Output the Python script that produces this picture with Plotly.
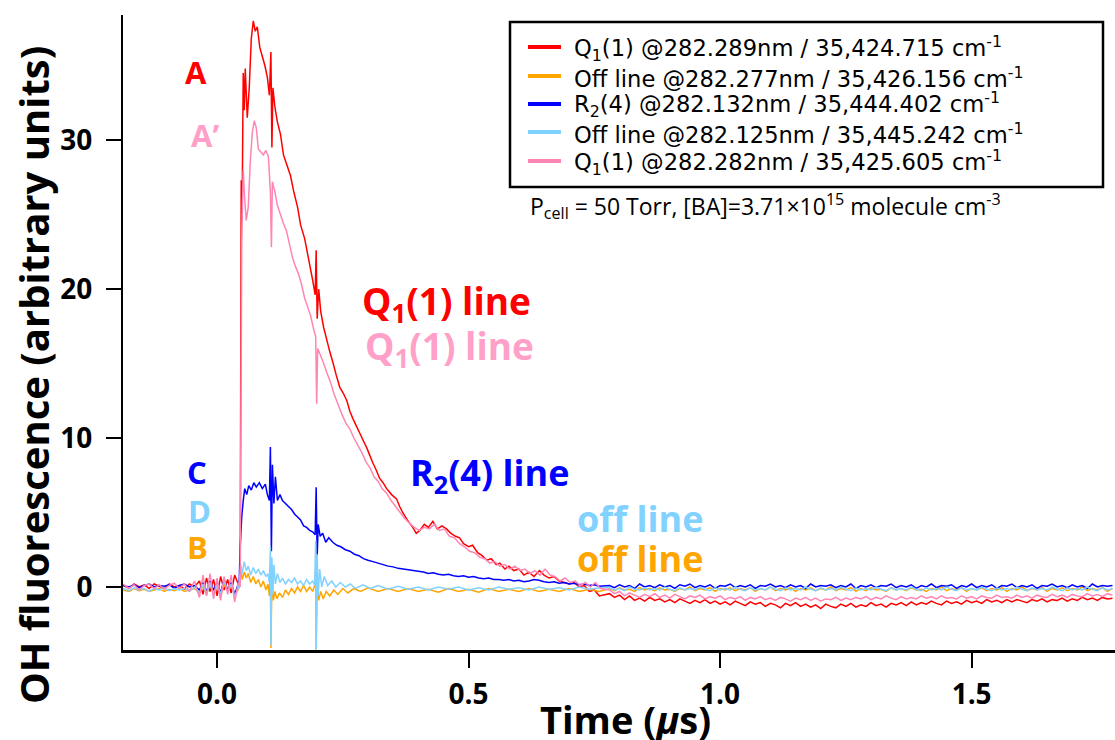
import plotly.graph_objects as go

# ---------------- data ----------------
# shared pre-trigger time base (µs)
T_PRE = [-0.187, -0.175, -0.165, -0.155, -0.145, -0.135, -0.125, -0.115, -0.105, -0.095,
         -0.085, -0.075, -0.065, -0.055, -0.045, -0.035, -0.028, -0.021, -0.014, -0.007,
         0.0, 0.007, 0.014, 0.021, 0.028, 0.035, 0.042]

# shared late-time base (µs)
T_TAIL = [0.78, 0.79, 0.80, 0.81, 0.82, 0.83, 0.84, 0.85, 0.86, 0.87,
          0.88, 0.89, 0.90, 0.91, 0.92, 0.93, 0.94, 0.95, 0.96, 0.97,
          0.98, 0.99, 1.00, 1.01, 1.02, 1.03, 1.04, 1.05, 1.06, 1.07,
          1.08, 1.09, 1.10, 1.11, 1.12, 1.13, 1.14, 1.15, 1.16, 1.17,
          1.18, 1.19, 1.20, 1.21, 1.22, 1.23, 1.24, 1.25, 1.26, 1.27,
          1.28, 1.29, 1.30, 1.31, 1.32, 1.33, 1.34, 1.35, 1.36, 1.37,
          1.38, 1.39, 1.40, 1.41, 1.42, 1.43, 1.44, 1.45, 1.46, 1.47,
          1.48, 1.49, 1.50, 1.51, 1.52, 1.53, 1.54, 1.55, 1.56, 1.57,
          1.58, 1.59, 1.60, 1.61, 1.62, 1.63, 1.64, 1.65, 1.66, 1.67,
          1.68, 1.69, 1.70, 1.71, 1.72, 1.73, 1.74, 1.75, 1.76, 1.77,
          1.78]

# --- Q1(1) @282.289 nm (red)
RED_PRE = [0.1, -0.1, 0.2, 0.0, 0.15, -0.1, 0.2, 0.05, -0.1, 0.2,
           0.0, 0.1, -0.15, 0.2, 0.0, 0.4, -0.5, 0.6, -0.3, 0.5,
           -0.6, 0.7, -0.2, 0.5, -0.4, 0.8, 0.2]
RED_MID = [(0.046, 0.5), (0.048, 27.3), (0.050, 26.0), (0.052, 34.5), (0.054, 32.0),
           (0.056, 34.8), (0.060, 31.5), (0.064, 33.5), (0.068, 36.8), (0.072, 38.0),
           (0.076, 37.3), (0.080, 37.6), (0.085, 36.2), (0.090, 35.6), (0.095, 35.0),
           (0.100, 34.2), (0.104, 33.0), (0.107, 35.9), (0.109, 29.5), (0.111, 33.5),
           (0.115, 32.2), (0.120, 31.2), (0.126, 30.4), (0.132, 29.0), (0.140, 28.2),
           (0.146, 27.6), (0.152, 26.6), (0.160, 25.5), (0.166, 24.3), (0.174, 23.4),
           (0.182, 22.0), (0.190, 20.6), (0.195, 19.6), (0.197, 22.6), (0.199, 18.0),
           (0.202, 20.0), (0.206, 18.5), (0.212, 17.4), (0.218, 16.6), (0.224, 15.8),
           (0.230, 15.1), (0.237, 14.2), (0.244, 13.4), (0.251, 13.0), (0.258, 12.5),
           (0.264, 11.8), (0.270, 11.3), (0.277, 10.8), (0.284, 10.3), (0.291, 9.8),
           (0.298, 9.3), (0.304, 8.8), (0.310, 8.3), (0.317, 7.8), (0.323, 7.3),
           (0.330, 7.0), (0.337, 6.6), (0.347, 6.2), (0.357, 5.9), (0.363, 5.4),
           (0.369, 5.0), (0.378, 4.5), (0.389, 4.0), (0.396, 3.6), (0.403, 3.8),
           (0.412, 4.2), (0.420, 4.0), (0.429, 4.4), (0.438, 3.9), (0.447, 4.1),
           (0.456, 3.9), (0.465, 3.6), (0.474, 3.4), (0.482, 3.3), (0.490, 2.9),
           (0.500, 2.7), (0.508, 2.8), (0.518, 2.3), (0.527, 2.1), (0.536, 1.8),
           (0.545, 1.9), (0.555, 1.5), (0.562, 1.6), (0.572, 1.2), (0.580, 1.4),
           (0.590, 1.1), (0.600, 1.2), (0.610, 0.8), (0.620, 1.0), (0.630, 0.7),
           (0.641, 1.1), (0.650, 0.8), (0.660, 0.6), (0.670, 0.7), (0.680, 0.4),
           (0.690, 0.3), (0.700, 0.2), (0.710, 0.3), (0.720, 0.0), (0.730, 0.1),
           (0.740, -0.3), (0.750, -0.2), (0.760, -0.6)]
RED_TAIL = [-0.45, -0.7, -0.55, -0.85, -0.6, -0.9, -0.75, -0.95, -0.7, -0.9,
            -0.8, -1.0, -0.85, -1.05, -0.8, -0.95, -1.1, -0.9, -1.05, -0.85,
            -1.1, -0.95, -1.15, -1.0, -1.2, -0.95, -1.1, -1.25, -1.0, -1.15,
            -1.05, -1.3, -1.1, -1.2, -1.4, -1.1, -1.25, -1.05, -1.3, -1.15,
            -1.35, -1.2, -1.45, -1.15, -1.3, -1.4, -1.15, -1.3, -1.1, -1.35,
            -1.2, -1.3, -1.05, -1.25, -1.15, -1.35, -1.1, -1.2, -1.05, -1.25,
            -1.0, -1.2, -1.05, -1.15, -0.95, -1.1, -1.2, -0.95, -1.1, -1.0,
            -1.15, -0.9, -1.05, -0.95, -1.1, -0.85, -1.0, -0.9, -1.05, -0.85,
            -1.0, -0.85, -0.95, -1.05, -0.85, -0.95, -0.8, -1.0, -0.85, -0.9,
            -0.75, -0.95, -0.8, -0.9, -0.7, -0.85, -0.75, -0.9, -0.7, -0.8,
            -0.75]

# --- Off line @282.277 nm (orange)
ORANGE_PRE = [-0.2, -0.3, -0.1, -0.25, -0.15, -0.3, -0.2, -0.1, -0.3, -0.15,
              -0.25, -0.1, -0.3, -0.2, -0.1, -0.4, 0.1, -0.5, 0.2, -0.4,
              0.3, -0.6, 0.2, -0.3, 0.1, -0.5, -0.2]
ORANGE_MID = [(0.044, 0.0), (0.047, 1.2), (0.050, 0.5), (0.054, 1.0), (0.058, 0.6),
              (0.062, 0.9), (0.067, 0.3), (0.072, 0.7), (0.077, 0.2), (0.082, 0.5),
              (0.087, 0.0), (0.092, 0.4), (0.097, -0.2), (0.101, 0.2), (0.104, -0.6),
              (0.106, 1.0), (0.107, -4.1), (0.109, 0.5), (0.112, -0.9), (0.115, -0.3),
              (0.119, -0.8), (0.124, -0.4), (0.130, -0.7), (0.136, -0.2), (0.142, -0.5),
              (0.148, -0.1), (0.154, -0.4), (0.160, 0.0), (0.166, -0.3), (0.172, 0.1),
              (0.178, -0.3), (0.184, 0.0), (0.190, -0.3), (0.194, 0.1), (0.196, 1.2),
              (0.197, -4.2), (0.199, 0.4), (0.202, -0.9), (0.206, -0.3), (0.211, -0.8),
              (0.217, -0.3), (0.224, -0.6), (0.232, -0.2), (0.240, -0.5), (0.250, -0.1),
              (0.260, -0.4), (0.272, -0.1), (0.285, -0.3), (0.300, -0.05), (0.320, -0.3),
              (0.340, -0.1), (0.360, -0.3), (0.380, -0.1), (0.400, -0.3), (0.420, -0.15),
              (0.440, -0.35), (0.460, -0.1), (0.480, -0.3), (0.500, -0.15), (0.520, -0.35),
              (0.540, -0.1), (0.560, -0.3), (0.580, -0.15), (0.600, -0.3), (0.620, -0.1),
              (0.640, -0.3), (0.660, -0.15), (0.680, -0.3), (0.700, -0.1), (0.720, -0.3),
              (0.740, -0.15), (0.760, -0.3)]
ORANGE_TAIL = [-0.1, -0.25, -0.05, -0.2, -0.15, -0.3, -0.05, -0.2, -0.1, -0.25,
               -0.05, -0.2, -0.15, -0.3, -0.1, -0.2, 0.0, -0.25, -0.1, -0.2,
               -0.05, -0.3, -0.1, -0.2, -0.05, -0.25, -0.1, -0.2, -0.05, -0.3,
               -0.1, -0.2, 0.0, -0.25, -0.1, -0.2, -0.05, -0.3, -0.1, -0.2,
               -0.05, -0.25, -0.1, -0.2, 0.0, -0.25, -0.1, -0.2, -0.05, -0.3,
               -0.1, -0.25, -0.05, -0.2, -0.15, -0.3, -0.05, -0.2, -0.1, -0.25,
               -0.05, -0.2, -0.15, -0.3, -0.1, -0.2, 0.0, -0.25, -0.1, -0.2,
               -0.05, -0.3, -0.1, -0.2, -0.05, -0.25, -0.1, -0.2, -0.05, -0.3,
               -0.1, -0.2, 0.0, -0.25, -0.1, -0.2, -0.05, -0.3, -0.1, -0.2,
               -0.05, -0.25, -0.1, -0.2, 0.0, -0.25, -0.1, -0.2, -0.05, -0.3,
               -0.1]

# --- R2(4) @282.132 nm (blue)
BLUE_PRE = [0.1, 0.0, 0.15, -0.05, 0.1, 0.2, 0.0, 0.1, 0.05, 0.15,
            -0.1, 0.1, 0.2, 0.0, 0.1, -0.2, 0.3, -0.3, 0.4, -0.2,
            0.3, -0.4, 0.5, -0.2, 0.3, -0.5, 0.2]
BLUE_MID = [(0.044, 0.3), (0.046, 2.7), (0.049, 4.7), (0.052, 5.8), (0.055, 6.6),
            (0.059, 6.2), (0.063, 6.8), (0.068, 6.5), (0.073, 7.0), (0.078, 6.7),
            (0.084, 7.0), (0.090, 6.6), (0.096, 6.9), (0.100, 6.2), (0.104, 5.8),
            (0.106, 9.4), (0.108, 2.4), (0.110, 8.2), (0.113, 5.6), (0.116, 7.4),
            (0.120, 5.8), (0.125, 6.2), (0.130, 5.8), (0.136, 5.6), (0.142, 5.4),
            (0.148, 5.2), (0.154, 4.9), (0.160, 4.7), (0.166, 4.5), (0.172, 4.1),
            (0.178, 4.0), (0.184, 3.8), (0.190, 3.7), (0.195, 3.5), (0.197, 6.7),
            (0.199, 2.0), (0.201, 4.2), (0.205, 3.4), (0.210, 3.6), (0.216, 3.0),
            (0.222, 3.3), (0.230, 3.0), (0.238, 2.8), (0.246, 2.7), (0.255, 2.5),
            (0.264, 2.4), (0.273, 2.2), (0.282, 2.1), (0.291, 1.9), (0.300, 1.8),
            (0.310, 1.7), (0.320, 1.6), (0.330, 1.5), (0.340, 1.4), (0.350, 1.35),
            (0.360, 1.25), (0.370, 1.2), (0.380, 1.15), (0.390, 1.1), (0.400, 1.05),
            (0.410, 1.0), (0.420, 0.9), (0.430, 0.95), (0.440, 0.85), (0.450, 0.8),
            (0.460, 0.85), (0.470, 0.75), (0.480, 0.7), (0.490, 0.75), (0.500, 0.65),
            (0.510, 0.7), (0.520, 0.6), (0.530, 0.55), (0.540, 0.6), (0.550, 0.5),
            (0.560, 0.5), (0.570, 0.45), (0.580, 0.5), (0.590, 0.4), (0.600, 0.45),
            (0.610, 0.35), (0.620, 0.4), (0.630, 0.5), (0.640, 0.45), (0.650, 0.35),
            (0.660, 0.3), (0.670, 0.35), (0.680, 0.25), (0.690, 0.3), (0.700, 0.2),
            (0.710, 0.25), (0.720, 0.15), (0.730, 0.2), (0.740, 0.1), (0.750, 0.15),
            (0.760, 0.05)]
BLUE_TAIL = [0.1, -0.05, 0.15, 0.0, 0.1, -0.1, 0.2, 0.0, 0.1, -0.05,
             0.15, 0.0, 0.1, -0.1, 0.15, 0.05, 0.2, -0.05, 0.1, 0.0,
             0.15, -0.1, 0.1, 0.05, 0.2, -0.05, 0.1, 0.0, 0.15, -0.1,
             0.1, 0.05, 0.2, 0.0, 0.1, -0.05, 0.15, 0.0, 0.1, -0.1,
             0.2, 0.0, 0.1, 0.05, 0.15, -0.05, 0.1, 0.0, 0.2, -0.1,
             0.1, 0.0, 0.15, -0.05, 0.1, 0.05, 0.2, -0.05, 0.1, 0.0,
             0.15, -0.1, 0.1, 0.0, 0.2, -0.05, 0.1, 0.05, 0.15, -0.1,
             0.1, 0.0, 0.2, -0.05, 0.1, 0.0, 0.15, -0.1, 0.1, 0.05,
             0.2, -0.05, 0.1, 0.0, 0.15, -0.1, 0.1, 0.05, 0.2, 0.0,
             0.1, -0.05, 0.15, 0.0, 0.1, -0.1, 0.2, 0.0, 0.1, 0.05,
             0.1]

# --- Off line @282.125 nm (light blue)
LBLUE_PRE = [-0.1, -0.25, -0.05, -0.2, -0.1, -0.3, -0.1, -0.2, -0.05, -0.25,
             -0.1, -0.2, -0.1, -0.3, 0.0, -0.4, 0.2, -0.5, 0.3, -0.6,
             0.2, -0.5, 0.4, -0.3, 0.2, -0.6, -0.1]
LBLUE_MID = [(0.044, 0.2), (0.047, 1.5), (0.050, 0.9), (0.054, 1.7), (0.058, 1.1),
             (0.062, 1.4), (0.067, 0.8), (0.072, 1.3), (0.077, 0.9), (0.082, 1.2),
             (0.087, 0.8), (0.092, 1.1), (0.097, 0.7), (0.101, 0.9), (0.104, 0.3),
             (0.106, 2.7), (0.107, -3.9), (0.109, 2.0), (0.111, -0.5), (0.113, 1.5),
             (0.116, 0.2), (0.120, 0.9), (0.125, 0.3), (0.130, 0.6), (0.136, 0.2),
             (0.142, 0.5), (0.148, 0.3), (0.154, 0.6), (0.160, 0.2), (0.166, 0.4),
             (0.172, 0.1), (0.178, 0.5), (0.184, 0.2), (0.190, 0.4), (0.194, 0.1),
             (0.196, 3.1), (0.197, -4.2), (0.199, 2.2), (0.201, -0.6), (0.204, 1.2),
             (0.208, 0.0), (0.213, 0.7), (0.220, 0.1), (0.228, 0.4), (0.236, 0.0),
             (0.245, 0.3), (0.255, 0.0), (0.265, 0.2), (0.275, -0.1), (0.290, 0.15),
             (0.305, -0.1), (0.320, 0.1), (0.340, -0.15), (0.360, 0.05), (0.380, -0.15),
             (0.400, 0.0), (0.420, -0.2), (0.440, 0.0), (0.460, -0.15), (0.480, 0.0),
             (0.500, -0.2), (0.520, -0.05), (0.540, -0.2), (0.560, 0.0), (0.580, -0.15),
             (0.600, -0.05), (0.620, -0.2), (0.640, 0.0), (0.660, -0.15), (0.680, -0.05),
             (0.700, -0.2), (0.720, 0.0), (0.740, -0.15), (0.760, -0.05)]
LBLUE_TAIL = [-0.05, -0.2, -0.1, -0.25, 0.0, -0.15, -0.2, -0.05, -0.2, -0.1,
              -0.2, 0.0, -0.15, -0.25, -0.05, -0.2, -0.1, -0.2, 0.0, -0.15,
              -0.25, -0.05, -0.2, -0.1, -0.2, 0.0, -0.15, -0.25, -0.05, -0.2,
              -0.1, -0.2, 0.0, -0.15, -0.25, -0.05, -0.2, -0.1, -0.2, 0.0,
              -0.15, -0.25, -0.05, -0.2, -0.1, -0.2, 0.0, -0.15, -0.25, -0.05,
              -0.2, -0.1, -0.2, 0.0, -0.15, -0.25, -0.05, -0.2, -0.1, -0.2,
              0.0, -0.15, -0.25, -0.05, -0.2, -0.1, -0.2, 0.0, -0.15, -0.25,
              -0.05, -0.2, -0.1, -0.2, 0.0, -0.15, -0.25, -0.05, -0.2, -0.1,
              -0.2, 0.0, -0.15, -0.25, -0.05, -0.2, -0.1, -0.2, 0.0, -0.15,
              -0.25, -0.05, -0.2, -0.1, -0.2, 0.0, -0.15, -0.25, -0.05, -0.2,
              -0.1]

# --- Q1(1) @282.282 nm (pink)
PINK_PRE = [0.2, -0.1, 0.15, -0.2, 0.1, 0.2, -0.1, 0.15, -0.15, 0.1,
            0.25, -0.1, 0.2, -0.3, 0.4, -0.7, 0.8, -0.6, 0.9, -0.8,
            0.6, -0.9, 0.7, -0.5, 0.8, -1.0, 0.3]
PINK_MID = [(0.046, 0.0), (0.049, 23.0), (0.052, 28.0), (0.055, 26.0), (0.058, 24.6),
            (0.062, 25.5), (0.066, 28.5), (0.070, 30.5), (0.074, 31.3), (0.078, 30.8),
            (0.082, 29.4), (0.087, 29.2), (0.092, 29.0), (0.097, 29.3), (0.102, 28.9),
            (0.106, 26.5), (0.108, 22.8), (0.110, 27.2), (0.115, 26.5), (0.120, 25.6),
            (0.126, 25.0), (0.132, 24.4), (0.138, 23.9), (0.144, 23.0), (0.150, 22.1),
            (0.156, 21.5), (0.162, 21.0), (0.168, 20.3), (0.174, 19.4), (0.180, 18.8),
            (0.186, 18.2), (0.192, 17.3), (0.196, 16.8), (0.198, 12.3), (0.200, 16.0),
            (0.205, 15.6), (0.212, 15.0), (0.218, 14.4), (0.225, 13.8), (0.232, 13.0),
            (0.240, 12.3), (0.248, 11.6), (0.256, 11.0), (0.264, 10.6), (0.272, 10.0),
            (0.280, 9.5), (0.288, 9.0), (0.296, 8.4), (0.304, 8.0), (0.312, 7.4),
            (0.320, 7.1), (0.328, 6.6), (0.337, 6.3), (0.346, 5.8), (0.355, 5.4),
            (0.364, 5.0), (0.373, 4.6), (0.382, 4.3), (0.392, 4.0), (0.402, 3.8),
            (0.412, 4.0), (0.422, 3.9), (0.432, 4.2), (0.442, 3.8), (0.452, 3.9),
            (0.462, 3.4), (0.472, 3.3), (0.482, 2.9), (0.492, 2.7), (0.502, 2.4),
            (0.512, 2.3), (0.522, 2.0), (0.532, 1.9), (0.542, 1.6), (0.552, 1.7),
            (0.562, 1.4), (0.572, 1.5), (0.582, 1.2), (0.592, 1.4), (0.602, 1.1),
            (0.612, 1.2), (0.622, 0.9), (0.632, 1.1), (0.642, 0.8), (0.652, 1.2),
            (0.662, 0.8), (0.672, 0.7), (0.682, 0.4), (0.692, 0.6), (0.702, 0.3),
            (0.712, 0.4), (0.722, 0.1), (0.732, 0.3), (0.742, 0.0), (0.752, 0.3),
            (0.762, -0.1)]
PINK_TAIL = [-0.2, -0.45, -0.3, -0.6, -0.4, -0.55, -0.7, -0.5, -0.65, -0.45,
             -0.7, -0.55, -0.75, -0.5, -0.65, -0.8, -0.6, -0.7, -0.55, -0.8,
             -0.65, -0.75, -0.6, -0.85, -0.7, -0.8, -0.65, -0.9, -0.7, -0.8,
             -0.65, -0.85, -0.75, -0.9, -0.7, -0.8, -0.95, -0.75, -0.85, -0.7,
             -0.9, -0.75, -0.95, -0.8, -0.85, -0.7, -0.9, -0.75, -0.85, -0.7,
             -0.8, -0.65, -0.85, -0.7, -0.8, -0.6, -0.75, -0.85, -0.65, -0.8,
             -0.7, -0.8, -0.6, -0.75, -0.65, -0.8, -0.6, -0.75, -0.7, -0.8,
             -0.6, -0.75, -0.65, -0.8, -0.6, -0.7, -0.75, -0.55, -0.7, -0.65,
             -0.75, -0.55, -0.7, -0.6, -0.75, -0.55, -0.65, -0.7, -0.5, -0.65,
             -0.55, -0.7, -0.5, -0.6, -0.65, -0.45, -0.6, -0.5, -0.65, -0.45,
             -0.55]

LEGEND_LABELS = [
    "Q<sub>1</sub>(1) @282.289nm / 35,424.715 cm<sup>-1</sup>",
    "Off line @282.277nm / 35,426.156 cm<sup>-1</sup>",
    "R<sub>2</sub>(4) @282.132nm / 35,444.402 cm<sup>-1</sup>",
    "Off line @282.125nm / 35,445.242 cm<sup>-1</sup>",
    "Q<sub>1</sub>(1) @282.282nm / 35,425.605 cm<sup>-1</sup>",
]
X_TICKS = [0.0, 0.5, 1.0, 1.5]
X_TICK_TEXT = ["0.0", "0.5", "1.0", "1.5"]
Y_TICKS = [0, 10, 20, 30]

# ---------------- styling ----------------
C_RED = "#FF0000"
C_ORANGE = "#FFA500"
C_BLUE = "#0000FF"
C_LBLUE = "#82D2FF"
C_PINK = "#FF85B5"
C_PINK_TXT = "#FFA0C8"

series = [
    (RED_PRE, RED_MID, RED_TAIL, C_RED),
    (ORANGE_PRE, ORANGE_MID, ORANGE_TAIL, C_ORANGE),
    (BLUE_PRE, BLUE_MID, BLUE_TAIL, C_BLUE),
    (LBLUE_PRE, LBLUE_MID, LBLUE_TAIL, C_LBLUE),
    (PINK_PRE, PINK_MID, PINK_TAIL, C_PINK),
]

fig = go.Figure()
for (pre, mid, tail, col), lab in zip(series, LEGEND_LABELS):
    assert len(pre) == len(T_PRE)
    assert len(tail) == len(T_TAIL)
    t = T_PRE + [p[0] for p in mid] + T_TAIL
    v = pre + [p[1] for p in mid] + tail
    fig.add_trace(go.Scatter(x=t, y=v, mode="lines", name=lab, showlegend=False,
                             line=dict(color=col, width=1.5, simplify=False),
                             hoverinfo="skip"))

L, R, T, B = 123, 0, 15, 90
W, H = 1115, 740
PW, PH = W - L - R, H - T - B


def px(x, y):
    return (x - L) / PW, (H - B - y) / PH


ann = []
shapes = []
LABEL_FONT = "Open Sans"
labels = [
    ("A", C_RED, 196, 72, 31),
    ("A\u2019", C_PINK_TXT, 205, 135, 31),
    ("C", C_BLUE, 197, 472, 31),
    ("D", C_LBLUE, 199, 511, 31),
    ("B", C_ORANGE, 197, 547, 31),
    ("Q<sub>1</sub>(1) line", C_RED, 446, 303, 37),
    ("Q<sub>1</sub>(1) line", C_PINK_TXT, 449, 348, 37),
    ("R<sub>2</sub>(4) line", C_BLUE, 489, 474, 36),
    ("off line", C_LBLUE, 640, 518, 36),
    ("off line", C_ORANGE, 640, 558, 36),
]
for txt, col, x, y, s in labels:
    xp, yp = px(x, y)
    ann.append(dict(text="<b>%s</b>" % txt, x=xp, y=yp, xref="paper", yref="paper",
                    xanchor="center", yanchor="middle", showarrow=False,
                    font=dict(family=LABEL_FONT, size=s, color=col)))

# legend box (drawn by hand so row spacing matches the reference)
bx0, by0 = px(510, 187)
bx1, by1 = px(1103, 22)
shapes.append(dict(type="rect", xref="paper", yref="paper", x0=bx0, y0=by0, x1=bx1, y1=by1,
                   line=dict(color="black", width=2.5), fillcolor="white", layer="below"))
ROW_Y = [47, 76, 104, 132, 161]
for lab, (_, _, _, col), ry in zip(LEGEND_LABELS, series, ROW_Y):
    sx0, sy = px(528, ry)
    sx1, _ = px(561, ry)
    shapes.append(dict(type="line", xref="paper", yref="paper", x0=sx0, x1=sx1, y0=sy, y1=sy,
                       line=dict(color=col, width=4)))
    tx, ty = px(572, ry + 1)
    ann.append(dict(text=lab, x=tx, y=ty, xref="paper", yref="paper",
                    xanchor="left", yanchor="middle", showarrow=False,
                    font=dict(family="DejaVu Sans", size=22.6, color="black")))

xp, yp = px(765, 206)
ann.append(dict(text="P<sub>cell</sub> = 50 Torr, [BA]=3.71\u00d710<sup>15</sup> molecule cm<sup>-3</sup>",
                x=xp, y=yp, xref="paper", yref="paper", xanchor="center", yanchor="middle",
                showarrow=False, font=dict(family="Open Sans", size=23, color="black")))

xp, yp = px(33, 375)
ann.append(dict(text="<b>OH fluorescence (arbitrary units)</b>", x=xp, y=yp,
                xref="paper", yref="paper", textangle=-90, xanchor="center", yanchor="middle",
                showarrow=False, font=dict(family=LABEL_FONT, size=40, color="black")))
xp, yp = px(625, 719)
ann.append(dict(text="<b>Time (<i>\u03bc</i>s)</b>", x=xp, y=yp,
                xref="paper", yref="paper", xanchor="center", yanchor="middle",
                showarrow=False, font=dict(family=LABEL_FONT, size=38, color="black")))

fig.update_layout(
    width=W, height=H,
    margin=dict(l=L, r=R, t=T, b=B, pad=0),
    plot_bgcolor="white", paper_bgcolor="white",
    showlegend=False,
    annotations=ann,
    shapes=shapes,
    xaxis=dict(range=[-0.187, 1.785], showline=True, linecolor="black", linewidth=3,
               ticks="outside", ticklen=15, tickwidth=2, tickcolor="black",
               tickvals=X_TICKS, ticktext=X_TICK_TEXT, showgrid=False, zeroline=False,
               ticklabelstandoff=2,
               tickfont=dict(family=LABEL_FONT, size=28, color="black", weight="bold")),
    yaxis=dict(range=[-4.23, 38.39], showline=True, linecolor="black", linewidth=2,
               ticks="outside", ticklen=15, tickwidth=2, tickcolor="black",
               tickvals=Y_TICKS, showgrid=False, zeroline=False,
               ticklabelstandoff=8,
               tickfont=dict(family=LABEL_FONT, size=28, color="black", weight="bold")),
)

fig.write_html("out.html", config={"displayModeBar": False},
               post_script="document.body.style.margin='0';document.body.style.padding='0';")
